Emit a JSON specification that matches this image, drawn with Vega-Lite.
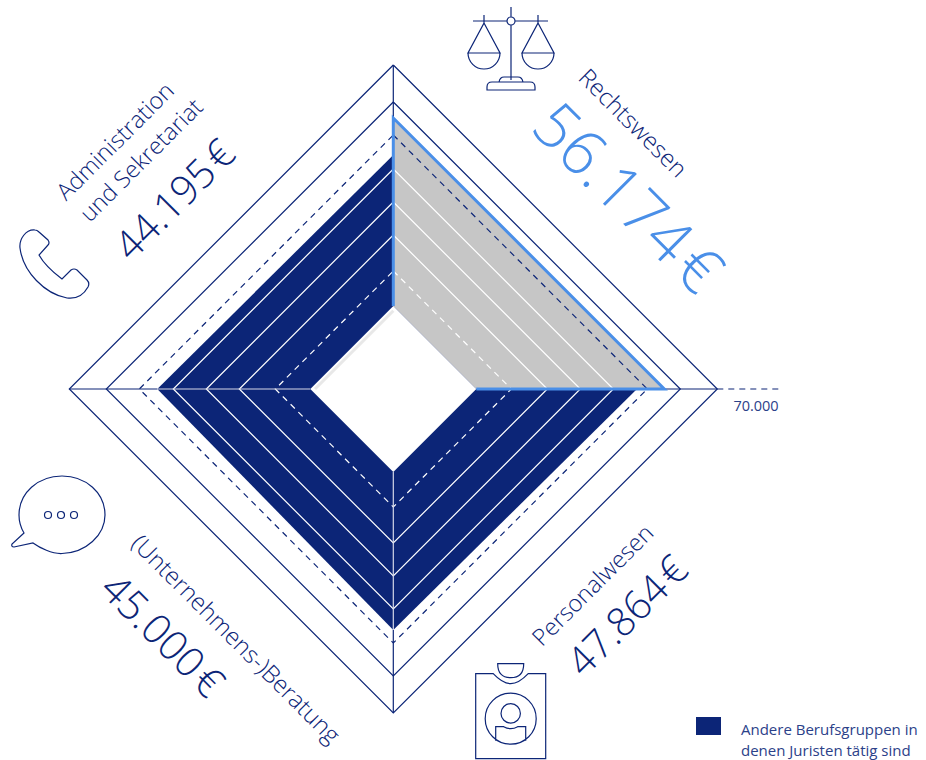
{"$schema":"https://vega.github.io/schema/vega-lite/v6.json","width":926,"height":760,"padding":0,"autosize":{"type":"none"},"background":"#ffffff","config":{"view":{"stroke":null},"text":{"font":"Open Sans"}},
"encoding":{"x":{"field":"x","type":"quantitative","axis":null,"scale":{"domain":[-114057,154483],"nice":false,"zero":false}},"y":{"field":"y","type":"quantitative","axis":null,"scale":{"domain":[-107590,112810],"nice":false,"zero":false}},"order":{"field":"i"}},
"datasets":{
"rings":[
{"ring":"70000","i":0,"x":0,"y":93960},{"ring":"70000","i":1,"x":93960,"y":0},{"ring":"70000","i":2,"x":0,"y":-93960},{"ring":"70000","i":3,"x":-93960,"y":0},{"ring":"70000","i":4,"x":0,"y":93960},
{"ring":"60000","i":0,"x":0,"y":83230},{"ring":"60000","i":1,"x":83230,"y":0},{"ring":"60000","i":2,"x":0,"y":-83230},{"ring":"60000","i":3,"x":-83230,"y":0},{"ring":"60000","i":4,"x":0,"y":83230},
{"ring":"50000","i":0,"x":0,"y":73660},{"ring":"50000","i":1,"x":73660,"y":0},{"ring":"50000","i":2,"x":0,"y":-73660},{"ring":"50000","i":3,"x":-73660,"y":0},{"ring":"50000","i":4,"x":0,"y":73660},
{"ring":"40000","i":0,"x":0,"y":63800},{"ring":"40000","i":1,"x":63800,"y":0},{"ring":"40000","i":2,"x":0,"y":-63800},{"ring":"40000","i":3,"x":-63800,"y":0},{"ring":"40000","i":4,"x":0,"y":63800},
{"ring":"30000","i":0,"x":0,"y":54230},{"ring":"30000","i":1,"x":54230,"y":0},{"ring":"30000","i":2,"x":0,"y":-54230},{"ring":"30000","i":3,"x":-54230,"y":0},{"ring":"30000","i":4,"x":0,"y":54230},
{"ring":"20000","i":0,"x":0,"y":44660},{"ring":"20000","i":1,"x":44660,"y":0},{"ring":"20000","i":2,"x":0,"y":-44660},{"ring":"20000","i":3,"x":-44660,"y":0},{"ring":"20000","i":4,"x":0,"y":44660},
{"ring":"10000","i":0,"x":0,"y":34220},{"ring":"10000","i":1,"x":34220,"y":0},{"ring":"10000","i":2,"x":0,"y":-34220},{"ring":"10000","i":3,"x":-34220,"y":0},{"ring":"10000","i":4,"x":0,"y":34220}
]},
"layer":[
{"data":{"values":[{"x":-68440,"y":0,"y2":0},{"x":0,"y":67860,"y2":-69890},{"x":70670,"y":0,"y2":0}]},"mark":{"type":"area","orient":"vertical","color":"#0c2577"},"encoding":{"y2":{"field":"y2"},"order":null}},
{"data":{"values":[{"x":0,"y":78590,"y2":24070},{"x":24070,"y":54520,"y2":0},{"x":78590,"y":0,"y2":0}]},"mark":{"type":"area","orient":"vertical","color":"#c6c6c6"},"encoding":{"y2":{"field":"y2"},"order":null}},
{"data":{"values":[{"x":-24070,"y":0,"y2":0},{"x":0,"y":24070,"y2":-24070},{"x":24070,"y":0,"y2":0}]},"mark":{"type":"area","orient":"vertical","color":"#ffffff"},"encoding":{"y2":{"field":"y2"},"order":null}},
{"data":{"values":[{"x":-22700,"y":0,"i":0},{"x":0,"y":22700,"i":1}]},"mark":{"type":"line","color":"#e8e8e8","strokeWidth":3}},
{"data":{"name":"rings"},"transform":[{"filter":"datum.ring=='70000'||datum.ring=='60000'"}],"mark":{"type":"line","color":"#0c2577","strokeWidth":1.2},"encoding":{"detail":{"field":"ring"}}},
{"data":{"name":"rings"},"transform":[{"filter":"datum.ring=='50000'"}],"mark":{"type":"line","color":"#0c2577","strokeWidth":1.2,"strokeDash":[6,5]},"encoding":{"detail":{"field":"ring"}}},
{"data":{"name":"rings"},"transform":[{"filter":"datum.ring=='40000'||datum.ring=='30000'||datum.ring=='20000'"}],"mark":{"type":"line","color":"#ffffff","strokeWidth":1.2},"encoding":{"detail":{"field":"ring"}}},
{"data":{"name":"rings"},"transform":[{"filter":"datum.ring=='10000'"}],"mark":{"type":"line","color":"#ffffff","strokeWidth":1.2,"strokeDash":[6,5]},"encoding":{"detail":{"field":"ring"}}},
{"data":{"values":[
{"a":"l1","i":0,"x":-93960,"y":0},{"a":"l1","i":1,"x":-68440,"y":0},
{"a":"r1","i":0,"x":78590,"y":0},{"a":"r1","i":1,"x":93960,"y":0},
{"a":"t1","i":0,"x":0,"y":78590},{"a":"t1","i":1,"x":0,"y":93960},
{"a":"b1","i":0,"x":0,"y":-69890},{"a":"b1","i":1,"x":0,"y":-93960}]},"mark":{"type":"line","color":"#0c2577","strokeWidth":1.2},"encoding":{"detail":{"field":"a"}}},
{"data":{"values":[
{"a":"l2","i":0,"x":-68440,"y":0},{"a":"l2","i":1,"x":-24070,"y":0},
{"a":"b2","i":0,"x":0,"y":-24070},{"a":"b2","i":1,"x":0,"y":-69890}]},"mark":{"type":"line","color":"#d5d8e8","strokeWidth":1.2},"encoding":{"detail":{"field":"a"}}},
{"data":{"values":[{"x":93960,"y":0,"i":0},{"x":111650,"y":0,"i":1}]},"mark":{"type":"line","color":"#0c2577","strokeWidth":1.2,"strokeDash":[6,5]}},
{"data":{"values":[{"x":0,"y":24070,"i":0},{"x":0,"y":78590,"i":1},{"x":78590,"y":0,"i":2},{"x":24070,"y":0,"i":3}]},"mark":{"type":"line","color":"#4a8fe8","strokeWidth":3,"strokeJoin":"miter"}},
{"data":{"values":[{"x":87783,"x2":95033,"y":-95120,"y2":-100340}]},"mark":{"type":"rect","color":"#0c2577"},"encoding":{"x2":{"field":"x2"},"y2":{"field":"y2"},"order":{"value":0}}},
{"data":{"values":[{"label":"Rechtswesen","x":69223,"y":76850}]},"mark":{"type":"text","fontSize":24,"fontWeight":300,"angle":45,"color":"#0c2577"},"encoding":{"text":{"field":"label"},"order":{"value":0}}},
{"data":{"values":[{"label":"56.174\u200a€","x":67483,"y":54810}]},"mark":{"type":"text","fontSize":63,"fontWeight":300,"angle":45,"color":"#4a8fe8"},"encoding":{"text":{"field":"label"},"order":{"value":0}}},
{"data":{"values":[{"label":"Administration","x":-80417,"y":71630},{"label":"und Sekretariat","x":-72877,"y":66120}]},"mark":{"type":"text","fontSize":23.5,"fontWeight":300,"angle":-45,"color":"#0c2577"},"encoding":{"text":{"field":"label"},"order":{"value":0}}},
{"data":{"values":[{"label":"44.195\u200a€","x":-63017,"y":54520}]},"mark":{"type":"text","fontSize":40,"fontWeight":300,"angle":-45,"color":"#0c2577"},"encoding":{"text":{"field":"label"},"order":{"value":0}}},
{"data":{"values":[{"label":"(Unternehmens-)Beratung","x":-45907,"y":-72790}]},"mark":{"type":"text","fontSize":24,"fontWeight":300,"angle":45,"color":"#0c2577"},"encoding":{"text":{"field":"label"},"order":{"value":0}}},
{"data":{"values":[{"label":"45.000\u200a€","x":-67367,"y":-71920}]},"mark":{"type":"text","fontSize":41,"fontWeight":300,"angle":45,"color":"#0c2577"},"encoding":{"text":{"field":"label"},"order":{"value":0}}},
{"data":{"values":[{"label":"Personalwesen","x":58087,"y":-57130}]},"mark":{"type":"text","fontSize":23.5,"fontWeight":300,"angle":-45,"color":"#0c2577"},"encoding":{"text":{"field":"label"},"order":{"value":0}}},
{"data":{"values":[{"label":"47.864\u200a€","x":68237,"y":-66120}]},"mark":{"type":"text","fontSize":40,"fontWeight":300,"angle":-45,"color":"#0c2577"},"encoding":{"text":{"field":"label"},"order":{"value":0}}},
{"data":{"values":[{"label":"70.000","x":105183,"y":-5220}]},"mark":{"type":"text","fontSize":14.5,"fontWeight":400,"color":"#2b4189"},"encoding":{"text":{"field":"label"},"order":{"value":0}}},
{"data":{"values":[{"label":"Andere Berufsgruppen in","x":100833,"y":-98890},{"label":"denen Juristen tätig sind","x":100833,"y":-104980}]},"mark":{"type":"text","fontSize":15,"fontWeight":400,"align":"left","color":"#2b4189"},"encoding":{"text":{"field":"label"},"order":{"value":0}}},
{"data":{"values":[{"icon":"Rechtswesen","x":34133,"y":98310}]},"mark":{"type":"point","size":4,"filled":false,"stroke":"#0c2577","strokeWidth":1.2,"opacity":1,"shape":"M0 -43V-33M0 -25V30M-38 -29H-4M4 -29H37M4 -29A4 4 0 1 1 -4 -29A4 4 0 1 1 4 -29M-27 -35V-27L-43 3H-11L-27 -27M27 -35V-27L11 3H43L27 -27M-43 3A16 16 0 0 0 -11 3M11 3A16 16 0 0 0 43 3M-24 40V37Q-24 32 -19 32H19Q24 32 24 37V40ZM-12 32Q-11 27 -7 27H7Q11 27 12 32"},"encoding":{"order":{"value":0}}},
{"data":{"values":[{"icon":"Administration","x":-98107,"y":36540}]},"mark":{"type":"point","size":4,"filled":false,"stroke":"#0c2577","strokeWidth":1.2,"opacity":1,"shape":"M-35 -15C-36 -24 -29 -34 -20 -33Q-18 -33 -16 -31L-7 -23Q-5 -20 -7 -18L-16 -8C-11 1 -1 10 7 16L16 7Q19 5 22 7L32 17Q35 20 33 24C28 33 20 36 12 35C-10 31 -32 9 -35 -15Z"},"encoding":{"order":{"value":0}}},
{"data":{"values":[{"icon":"Beratung","x":-96077,"y":-36540}]},"mark":{"type":"point","size":4,"filled":false,"stroke":"#0c2577","strokeWidth":1.2,"opacity":1,"shape":"M-38 18L-50 29Q-51 32 -48 32L-29 28C-22 33 -10 39 0 38.5C24 38 43 20 43 0C43 -22 24 -39 0 -39C-24 -39 -43 -22 -43 0C-43 6 -41 13 -38 18ZM-10.5 0A3.5 3.5 0 1 1 -17.5 0A3.5 3.5 0 1 1 -10.5 0M2.5 0A3.5 3.5 0 1 1 -4.5 0A3.5 3.5 0 1 1 2.5 0M15.5 0A3.5 3.5 0 1 1 8.5 0A3.5 3.5 0 1 1 15.5 0"},"encoding":{"order":{"value":0}}},
{"data":{"values":[{"icon":"Personalwesen","x":34046,"y":-95033}]},"mark":{"type":"point","size":4,"filled":false,"stroke":"#0c2577","strokeWidth":1.2,"opacity":1,"shape":"M-17.5 -43H-35V42H35V-43H17.5Q8 -33 0 -33Q-8 -33 -17.5 -43ZM-13 -53H13Q13 -39 0 -39Q-13 -39 -13 -53ZM25.5 2A25.5 25.5 0 1 1 -25.5 2A25.5 25.5 0 1 1 25.5 2M9.7 -3.3A9.7 9.7 0 1 1 -9.7 -3.3A9.7 9.7 0 1 1 9.7 -3.3M-15 24V10H-7Q0 14 7 10H15V24"},"encoding":{"order":{"value":0}}}
]}
